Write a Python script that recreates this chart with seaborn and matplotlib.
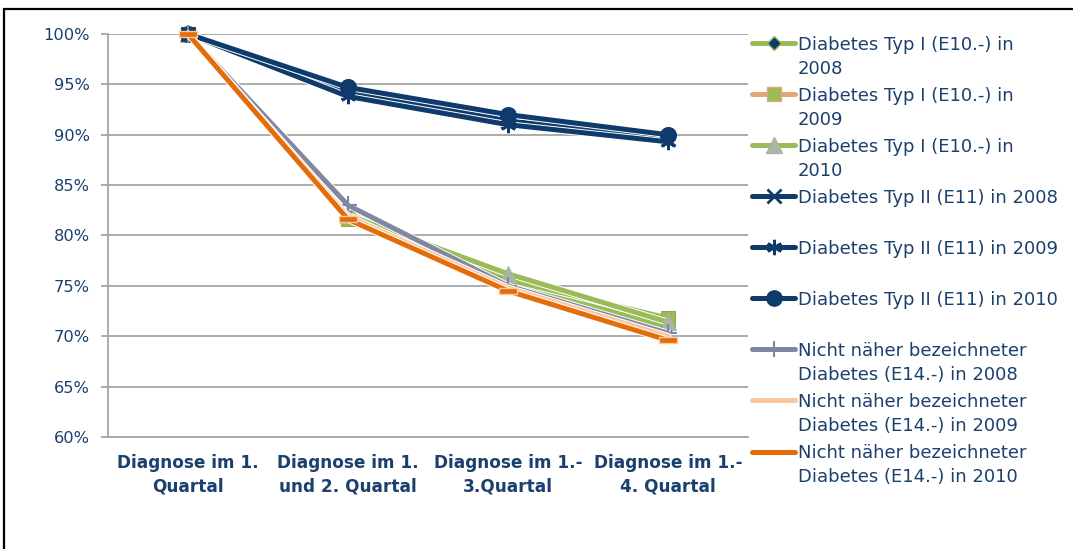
import numpy as np
import pandas as pd
import matplotlib
matplotlib.use("Agg")
import matplotlib.pyplot as plt
import matplotlib.patheffects as pe
from matplotlib.lines import Line2D
from matplotlib.patches import Rectangle
from matplotlib.ticker import PercentFormatter
import seaborn as sns

# categories on the x axis
categories = ["Diagnose im 1.\nQuartal", "Diagnose im 1.\nund 2. Quartal",
              "Diagnose im 1.-\n3.Quartal", "Diagnose im 1.-\n4. Quartal"]

# share of patients (%) per series
typ1_2008 = [100, 82.2, 75.3, 70.9]
typ1_2009 = [100, 81.6, 75.6, 71.8]
typ1_2010 = [100, 82.0, 76.2, 71.4]
typ2_2008 = [100, 94.3, 91.4, 89.6]
typ2_2009 = [100, 93.8, 91.0, 89.3]
typ2_2010 = [100, 94.7, 92.0, 90.0]
e14_2008 = [100, 83.0, 75.0, 70.3]
e14_2009 = [100, 81.9, 74.8, 70.0]
e14_2010 = [100, 81.6, 74.5, 69.6]

label_first = ["Diabetes Typ I (E10.-) in", "Diabetes Typ I (E10.-) in", "Diabetes Typ I (E10.-) in",
               "Diabetes Typ II (E11) in 2008", "Diabetes Typ II (E11) in 2009",
               "Diabetes Typ II (E11) in 2010",
               "Nicht näher bezeichneter", "Nicht näher bezeichneter", "Nicht näher bezeichneter"]
label_second = ["2008", "2009", "2010", "", "", "",
                "Diabetes (E14.-) in 2008", "Diabetes (E14.-) in 2009", "Diabetes (E14.-) in 2010"]

GREEN = "#9BBB59"
NAVY = "#0E3A6C"
GRAYBLUE = "#7F87A3"
PEACH = "#FAC79E"
ORANGE = "#E46C0A"
TAN = "#E3A777"
TRI = "#A8B6A2"
TEXT = "#1B406E"
GRID = "#A6A6A6"

sns.set_style("white")
plt.rcParams["font.family"] = ["DejaVu Sans"]

fig = plt.figure(figsize=(10.73, 5.49), dpi=100)
ax = fig.add_axes([108 / 1073, 1 - 437 / 549, 640 / 1073, 403 / 549])

rect_marker = [(-1, -0.35), (1, -0.35), (1, 0.35), (-1, 0.35), (-1, -0.35)]
glow = [pe.Stroke(linewidth=5.0, foreground="white"), pe.Normal()]

styles = [
    (typ1_2008, GREEN, dict(marker="D", markersize=7, markerfacecolor=NAVY,
                            markeredgecolor=NAVY)),
    (typ1_2009, GREEN, dict(marker="s", markersize=10, markerfacecolor=GREEN,
                            markeredgecolor="#8DAA4F")),
    (typ1_2010, GREEN, dict(marker="^", markersize=11.5, markerfacecolor=TRI,
                            markeredgecolor=TRI)),
    (typ2_2008, NAVY, dict(marker="x", markersize=10, markeredgecolor=NAVY,
                           markeredgewidth=2)),
    (typ2_2009, NAVY, dict(marker=(6, 2, 0), markersize=11, markeredgecolor=NAVY,
                           markeredgewidth=2)),
    (typ2_2010, NAVY, dict(marker="o", markersize=11.5, markerfacecolor=NAVY,
                           markeredgecolor=NAVY)),
    (e14_2008, GRAYBLUE, dict(marker="+", markersize=13, markeredgecolor=GRAYBLUE,
                              markeredgewidth=1.5)),
    (e14_2009, PEACH, None),
    (e14_2010, ORANGE, dict(marker=rect_marker, markersize=13, markerfacecolor=ORANGE,
                            markeredgecolor=PEACH, markeredgewidth=1)),
]

for vals, color, mkw in styles:
    df = pd.DataFrame({"cat": categories, "val": vals})
    # line with a thin white rim, as in the original
    sns.lineplot(data=df, x="cat", y="val", ax=ax, sort=False, color=color, linewidth=3.6,
                 clip_on=False, path_effects=glow)
    if mkw:
        sns.lineplot(data=df, x="cat", y="val", ax=ax, sort=False, color=color,
                     linestyle="none", clip_on=False, **mkw)

ax.set_xlim(-0.5, 3.5)
ax.set_ylim(60, 100)
ax.set_yticks(np.arange(60, 101, 5))
ax.yaxis.set_major_formatter(PercentFormatter(decimals=0))
ax.set_xlabel("")
ax.set_ylabel("")
ax.grid(axis="y", color=GRID, linewidth=1.3)
ax.set_axisbelow(True)
for s in ["top", "right"]:
    ax.spines[s].set_visible(False)
for s in ["left", "bottom"]:
    ax.spines[s].set_color(GRID)
    ax.spines[s].set_linewidth(1.3)

ax.set_xticks(range(len(categories)))
ax.set_xticklabels(categories, fontsize=12.2, fontweight="bold", color=TEXT, linespacing=1.4)
ax.set_xticks([-0.5, 0.5, 1.5, 2.5, 3.5], minor=True)
ax.tick_params(axis="x", which="major", length=0, pad=12.5)
ax.tick_params(axis="x", which="minor", length=5, color=GRID, width=1.3)
ax.tick_params(axis="y", length=5, color=GRID, width=1.3, labelsize=11.7,
               labelcolor=TEXT, pad=8, left=True)

# legend handles drawn to look like the original legend
handles = [
    Line2D([], [], color=GREEN, lw=3.6, marker="D", ms=7, mfc=NAVY, mec=GREEN),
    Line2D([], [], color=TAN, lw=3.6, marker="s", ms=10, mfc=GREEN, mec=TAN),
    Line2D([], [], color=GREEN, lw=3.6, marker="^", ms=11, mfc=TRI, mec=TRI),
    Line2D([], [], color=NAVY, lw=3.6, marker="x", ms=10, mec=NAVY, mew=2),
    Line2D([], [], color=NAVY, lw=3.6, marker=(6, 2, 0), ms=11, mec=NAVY, mew=2),
    Line2D([], [], color=NAVY, lw=3.6, marker="o", ms=11, mfc=NAVY, mec=NAVY),
    Line2D([], [], color=GRAYBLUE, lw=3.6, marker="|", ms=12, mec=GRAYBLUE, mew=1.5),
    Line2D([], [], color=PEACH, lw=3.6),
    Line2D([], [], color=ORANGE, lw=3.6),
]
leg = ax.legend(handles, label_first, loc="upper left", bbox_to_anchor=(752 / 1073, 1 - 35.5 / 549),
                bbox_transform=fig.transFigure, frameon=False, fontsize=13,
                handlelength=2.4, handletextpad=0.15, labelspacing=1.83,
                borderpad=0, borderaxespad=0, labelcolor=TEXT)
for txt, second in zip(leg.get_texts(), label_second):
    if second:
        ax.annotate(second, xy=(0, 0), xycoords=txt, xytext=(0, -4.5), textcoords="offset points",
                    va="top", ha="left", fontsize=13, color=TEXT, zorder=6,
                    annotation_clip=False)

# outer frame of the original chart
fig.add_artist(Rectangle((4 / 1073, -0.2), 1.2, 1.2 - 9 / 549, transform=fig.transFigure,
                         fill=False, edgecolor="black", linewidth=1.6, clip_on=False))

fig.savefig("out.png", dpi=100)
